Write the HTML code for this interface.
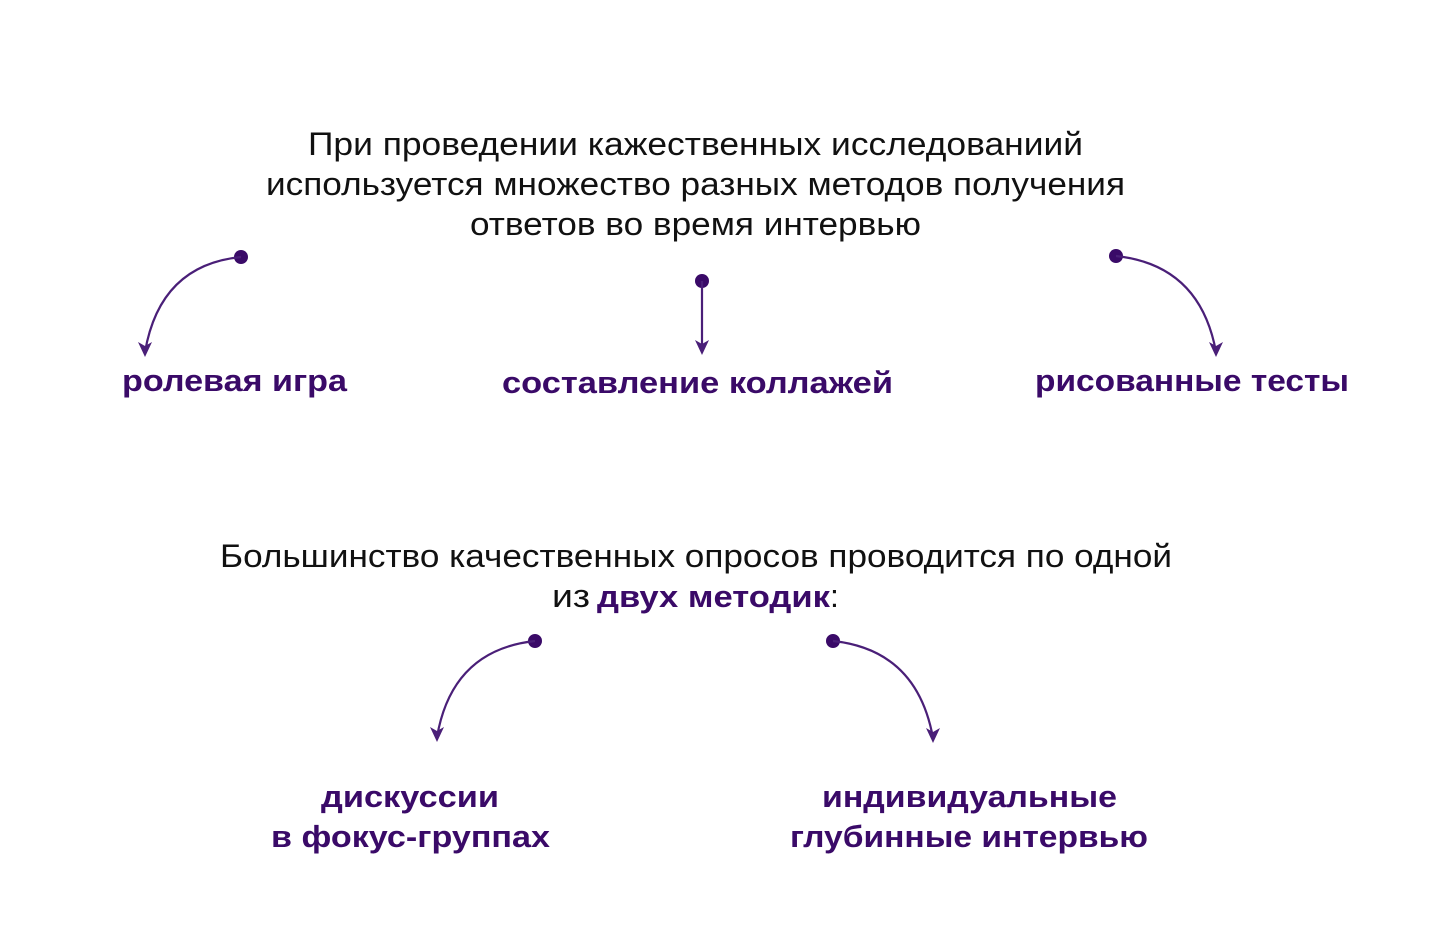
<!DOCTYPE html>
<html><head><meta charset="utf-8"><style>
html,body{margin:0;padding:0;background:#fff;}
svg{display:block;}
.t{font-family:"Liberation Sans",sans-serif;font-size:32px;fill:#111;}
.b{font-family:"Liberation Sans",sans-serif;font-size:31px;font-weight:bold;fill:#3a0a68;}
.c{fill:none;stroke:#4a1f78;stroke-width:2.2;}
.d{fill:#3a0a68;}
</style></head><body>
<svg width="1430" height="928" viewBox="0 0 1430 928" xmlns="http://www.w3.org/2000/svg">
<text class="t" x="308" y="155" textLength="775" lengthAdjust="spacingAndGlyphs">При проведении кажественных исследованиий</text>
<text class="t" x="266" y="195" textLength="859" lengthAdjust="spacingAndGlyphs">используется множество разных методов получения</text>
<text class="t" x="470" y="235" textLength="451" lengthAdjust="spacingAndGlyphs">ответов во время интервью</text>

<circle class="d" cx="241" cy="257" r="7"/>
<path class="c" d="M241,257 Q160,265 145,352"/>
<path d="M138,342 L145,357 L152,342 L145,346 Z" fill="#4a1f78"/>
<circle class="d" cx="702" cy="281" r="7"/>
<path class="c" d="M702,281 L702,350"/>
<path d="M695,340 L702,355 L709,340 L702,344 Z" fill="#4a1f78"/>
<circle class="d" cx="1116" cy="256" r="7"/>
<path class="c" d="M1116,256 Q1200,265 1216,352"/>
<path d="M1209,342 L1216,357 L1223,342 L1216,346 Z" fill="#4a1f78"/>

<text class="b" x="122" y="391" textLength="225" lengthAdjust="spacingAndGlyphs">ролевая игра</text>
<text class="b" x="502" y="393" textLength="391" lengthAdjust="spacingAndGlyphs">составление коллажей</text>
<text class="b" x="1035" y="391" textLength="314" lengthAdjust="spacingAndGlyphs">рисованные тесты</text>

<text class="t" x="220" y="567" textLength="952" lengthAdjust="spacingAndGlyphs">Большинство качественных опросов проводится по одной</text>
<text class="t" x="552" y="607" textLength="38" lengthAdjust="spacingAndGlyphs">из</text>
<text class="b" x="597" y="607" textLength="233" lengthAdjust="spacingAndGlyphs">двух методик</text>
<text class="t" x="830" y="607">:</text>

<circle class="d" cx="535" cy="641" r="7"/>
<path class="c" d="M535,641 Q452,650 437,737"/>
<path d="M430,727 L437,742 L444,727 L437,731 Z" fill="#4a1f78"/>
<circle class="d" cx="833" cy="641" r="7"/>
<path class="c" d="M833,641 Q917,650 933,738"/>
<path d="M926,728 L933,743 L940,728 L933,732 Z" fill="#4a1f78"/>

<text class="b" x="321" y="807" textLength="178" lengthAdjust="spacingAndGlyphs">дискуссии</text>
<text class="b" x="271" y="847" textLength="279" lengthAdjust="spacingAndGlyphs">в фокус-группах</text>
<text class="b" x="822" y="807" textLength="295" lengthAdjust="spacingAndGlyphs">индивидуальные</text>
<text class="b" x="790" y="847" textLength="358" lengthAdjust="spacingAndGlyphs">глубинные интервью</text>
</svg>
</body></html>
